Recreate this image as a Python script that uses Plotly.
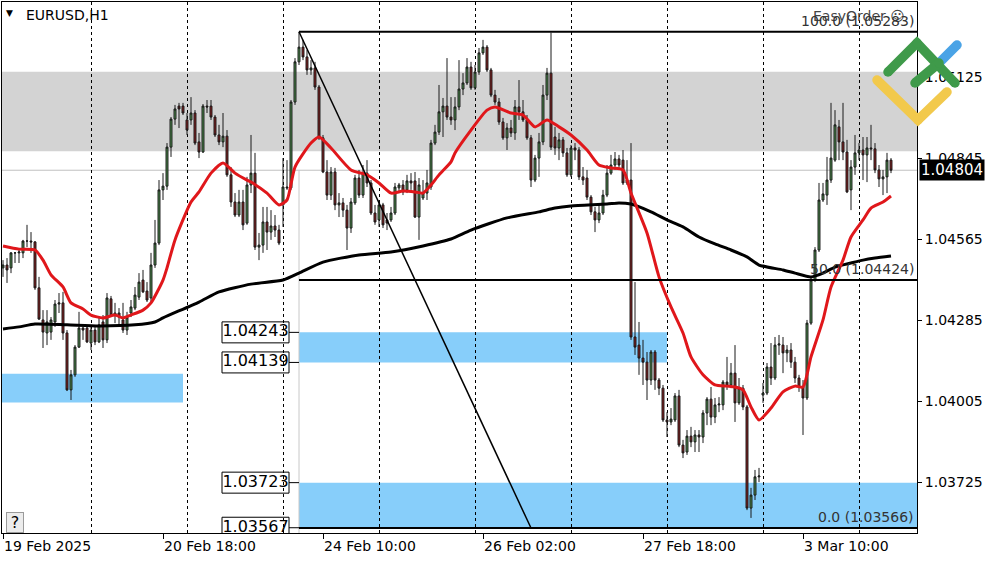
import plotly.graph_objects as go

# ---------------- data (EURUSD H1) ----------------
bars = list(range(223))
opens = [1.04466,1.04476,1.04466,1.04518,1.04518,1.04518,1.04559,1.04559,1.04556,1.04397,
1.04286,1.04241,1.04244,1.04279,1.04341,1.04345,1.04241,1.04044,1.04096,1.04192,
1.04258,1.04258,1.04206,1.04251,1.04210,1.04279,1.04217,1.04359,1.04303,1.04310,
1.04286,1.04251,1.04310,1.04327,1.04365,1.04424,1.04386,1.04362,1.04476,1.04552,
1.04736,1.04749,1.04884,1.04981,1.05026,1.05026,1.04978,1.04978,1.05002,1.04902,
1.04867,1.05026,1.05026,1.04988,1.04926,1.04902,1.04922,1.04788,1.04694,1.04649,
1.04694,1.04621,1.04753,1.04794,1.04538,1.04545,1.04625,1.04590,1.04611,1.04597,
1.04684,1.04746,1.04743,1.05040,1.05179,1.05230,1.05196,1.05151,1.05158,1.05092,
1.04916,1.04798,1.04718,1.04798,1.04684,1.04691,1.04666,1.04604,1.04691,1.04777,
1.04718,1.04794,1.04760,1.04656,1.04632,1.04684,1.04632,1.04632,1.04656,1.04743,
1.04753,1.04736,1.04767,1.04767,1.04642,1.04708,1.04725,1.04746,1.04898,1.04936,
1.05006,1.05026,1.04988,1.04978,1.05023,1.05085,1.05106,1.05161,1.05089,1.05144,
1.05210,1.05230,1.05151,1.05064,1.05040,1.04971,1.04916,1.04950,1.04933,1.05023,
1.05006,1.04978,1.04916,1.04770,1.04846,1.04902,1.05064,1.05140,1.04919,1.04881,
1.04909,1.04864,1.04788,1.04881,1.04874,1.04781,1.04777,1.04711,1.04660,1.04632,
1.04656,1.04718,1.04794,1.04822,1.04843,1.04839,1.04760,1.04770,1.04227,1.04199,
1.04154,1.04140,1.04078,1.04175,1.04078,1.04050,1.03940,1.03933,1.03940,1.04023,
1.03853,1.03829,1.03884,1.03864,1.03888,1.03881,1.03964,1.04012,1.03950,1.03992,
1.03992,1.04071,1.04061,1.04102,1.03999,1.04050,1.03985,1.03635,1.03680,1.03743,
1.04026,1.04033,1.04123,1.04085,1.04199,1.04199,1.04172,1.04182,1.04140,1.04085,
1.04054,1.04016,1.04275,1.04424,1.04528,1.04701,1.04718,1.04770,1.04839,1.04954,
1.04902,1.04867,1.04736,1.04815,1.04864,1.04874,1.04857,1.04881,1.04878,1.04805,
1.04774,1.04781,1.04839]
highs = [1.04493,1.04500,1.04521,1.04521,1.04535,1.04563,1.04615,1.04590,1.04559,1.04435,
1.04320,1.04320,1.04296,1.04355,1.04379,1.04383,1.04251,1.04113,1.04199,1.04314,
1.04262,1.04262,1.04262,1.04262,1.04296,1.04303,1.04379,1.04369,1.04345,1.04327,
1.04345,1.04314,1.04355,1.04400,1.04448,1.04459,1.04417,1.04518,1.04632,1.04770,
1.04794,1.04898,1.04988,1.05030,1.05037,1.05037,1.05002,1.05057,1.05012,1.04933,
1.05033,1.05047,1.05047,1.04995,1.04961,1.05002,1.04943,1.04815,1.04725,1.04736,
1.04736,1.04781,1.04926,1.04864,1.04587,1.04677,1.04677,1.04666,1.04649,1.04615,
1.04846,1.04839,1.05047,1.05192,1.05283,1.05255,1.05220,1.05185,1.05179,1.05099,
1.04926,1.04839,1.04815,1.04812,1.04725,1.04708,1.04684,1.04708,1.04788,1.04805,
1.04822,1.04839,1.04770,1.04684,1.04701,1.04691,1.04656,1.04677,1.04760,1.04760,
1.04770,1.04788,1.04794,1.04798,1.04777,1.04770,1.04805,1.04909,1.04961,1.05099,
1.05054,1.05192,1.05057,1.05057,1.05185,1.05140,1.05192,1.05179,1.05168,1.05227,
1.05255,1.05237,1.05158,1.05082,1.05054,1.04985,1.04967,1.04978,1.05047,1.05116,
1.05047,1.04995,1.04926,1.04857,1.04933,1.05099,1.05158,1.05280,1.04954,1.04933,
1.04919,1.04881,1.04891,1.04898,1.04884,1.04815,1.04805,1.04718,1.04677,1.04684,
1.04736,1.04822,1.04857,1.04867,1.04857,1.04874,1.04839,1.04898,1.04417,1.04279,
1.04217,1.04175,1.04182,1.04182,1.04085,1.04061,1.03967,1.03981,1.04033,1.04044,
1.03871,1.03905,1.03916,1.03905,1.03905,1.03974,1.04019,1.04054,1.04016,1.04019,
1.04078,1.04158,1.04137,1.04199,1.04085,1.04061,1.03992,1.03705,1.03767,1.03774,
1.04068,1.04137,1.04206,1.04227,1.04234,1.04227,1.04199,1.04206,1.04158,1.04096,
1.04078,1.04286,1.04435,1.04538,1.04760,1.04760,1.04850,1.05037,1.05012,1.04978,
1.05037,1.04909,1.04839,1.04926,1.04898,1.04919,1.04919,1.04961,1.04898,1.04822,
1.04805,1.04864,1.04846]
lows = [1.04435,1.04414,1.04448,1.04483,1.04483,1.04500,1.04538,1.04518,1.04390,1.04286,
1.04189,1.04199,1.04217,1.04262,1.04310,1.04217,1.04040,1.04009,1.04089,1.04189,
1.04217,1.04206,1.04182,1.04199,1.04206,1.04189,1.04206,1.04296,1.04275,1.04262,
1.04241,1.04234,1.04296,1.04320,1.04355,1.04379,1.04348,1.04348,1.04466,1.04545,
1.04701,1.04736,1.04850,1.04961,1.04950,1.04995,1.04926,1.04961,1.04891,1.04846,
1.04864,1.05002,1.04978,1.04919,1.04891,1.04884,1.04781,1.04677,1.04642,1.04642,
1.04597,1.04615,1.04725,1.04528,1.04493,1.04518,1.04528,1.04563,1.04573,1.04545,
1.04608,1.04736,1.04736,1.05030,1.05168,1.05185,1.05134,1.05134,1.05082,1.04909,
1.04794,1.04701,1.04701,1.04666,1.04642,1.04642,1.04528,1.04587,1.04684,1.04708,
1.04708,1.04746,1.04649,1.04615,1.04608,1.04604,1.04597,1.04625,1.04649,1.04725,
1.04718,1.04725,1.04736,1.04639,1.04563,1.04701,1.04701,1.04736,1.04891,1.04926,
1.04919,1.04978,1.04961,1.04943,1.05012,1.05064,1.05099,1.05082,1.05082,1.05134,
1.05203,1.05144,1.05057,1.05030,1.04961,1.04909,1.04874,1.04919,1.04909,1.04978,
1.04971,1.04909,1.04746,1.04763,1.04781,1.04891,1.05047,1.04874,1.04857,1.04839,
1.04850,1.04781,1.04781,1.04839,1.04770,1.04753,1.04701,1.04649,1.04590,1.04621,
1.04649,1.04711,1.04788,1.04805,1.04812,1.04753,1.04753,1.04217,1.04165,1.04096,
1.04061,1.04009,1.04061,1.04044,1.04026,1.03933,1.03881,1.03922,1.03933,1.03846,
1.03808,1.03819,1.03846,1.03829,1.03829,1.03860,1.03922,1.03922,1.03929,1.03967,
1.03974,1.04044,1.04050,1.03933,1.03992,1.03974,1.03628,1.03601,1.03663,1.03725,
1.03999,1.04026,1.04061,1.04078,1.04165,1.04102,1.04140,1.04120,1.04068,1.04037,
1.03888,1.04009,1.04269,1.04417,1.04521,1.04694,1.04684,1.04760,1.04833,1.04839,
1.04839,1.04725,1.04666,1.04788,1.04839,1.04770,1.04763,1.04839,1.04794,1.04746,
1.04718,1.04725,1.04794]
closes = [1.04476,1.04459,1.04518,1.04518,1.04521,1.04559,1.04559,1.04556,1.04397,1.04289,
1.04244,1.04279,1.04286,1.04341,1.04345,1.04241,1.04044,1.04096,1.04192,1.04258,
1.04251,1.04210,1.04251,1.04210,1.04269,1.04217,1.04362,1.04303,1.04310,1.04296,
1.04251,1.04296,1.04331,1.04372,1.04417,1.04383,1.04355,1.04476,1.04552,1.04736,
1.04749,1.04884,1.04981,1.05016,1.05016,1.05002,1.04943,1.05002,1.04898,1.04867,
1.05026,1.05023,1.04988,1.04926,1.04902,1.04922,1.04788,1.04694,1.04649,1.04694,
1.04615,1.04753,1.04794,1.04538,1.04545,1.04625,1.04590,1.04611,1.04597,1.04552,
1.04746,1.04743,1.05040,1.05179,1.05230,1.05196,1.05151,1.05158,1.05092,1.04916,
1.04798,1.04718,1.04798,1.04684,1.04691,1.04666,1.04604,1.04694,1.04777,1.04718,
1.04794,1.04760,1.04656,1.04625,1.04684,1.04615,1.04621,1.04656,1.04746,1.04753,
1.04729,1.04767,1.04760,1.04642,1.04753,1.04725,1.04760,1.04898,1.04936,1.05006,
1.05026,1.04988,1.04978,1.05023,1.05085,1.05106,1.05161,1.05089,1.05144,1.05210,
1.05230,1.05151,1.05064,1.05040,1.04971,1.04916,1.04950,1.04933,1.05023,1.05006,
1.04978,1.04916,1.04770,1.04846,1.04902,1.05064,1.05140,1.04884,1.04881,1.04909,
1.04864,1.04788,1.04881,1.04874,1.04781,1.04770,1.04711,1.04660,1.04632,1.04656,
1.04718,1.04794,1.04822,1.04843,1.04822,1.04760,1.04770,1.04227,1.04192,1.04154,
1.04140,1.04078,1.04175,1.04078,1.04050,1.03940,1.03933,1.03943,1.04023,1.03853,
1.03826,1.03884,1.03864,1.03888,1.03881,1.03964,1.04012,1.03950,1.03992,1.03995,
1.04071,1.04061,1.04102,1.03999,1.04050,1.03985,1.03635,1.03680,1.03743,1.03746,
1.04033,1.04123,1.04085,1.04199,1.04203,1.04172,1.04182,1.04140,1.04085,1.04054,
1.04016,1.04275,1.04424,1.04528,1.04701,1.04722,1.04770,1.04846,1.04961,1.04902,
1.04867,1.04729,1.04815,1.04864,1.04874,1.04857,1.04881,1.04878,1.04805,1.04774,
1.04781,1.04839,1.04804]

# moving averages (bar index, price)
ma_fast_bars = [0,4,8,10,12,15,17,20,22,25,28,30,32,35,37,40,41,43,47,49,52,55,58,61,62,66,69,71,73,77,79,82,87,91,94,97,100,103,105,107,109,112,113,117,121,123,127,130,133,136,139,142,146,149,152,155,157,161,164,167,170,172,175,178,181,183,185,187,189,192,195,198,200,202,205,207,210,212,215,217,220,222]
ma_fast_vals = [1.04542,1.04531,1.04528,1.04493,1.04442,1.04400,1.04345,1.04324,1.04303,1.04293,1.04303,1.04293,1.04303,1.04320,1.04345,1.04424,1.04466,1.04563,1.04694,1.04729,1.04794,1.04829,1.04794,1.04770,1.04763,1.04725,1.04684,1.04701,1.04815,1.04898,1.04919,1.04881,1.04805,1.04788,1.04760,1.04725,1.04732,1.04729,1.04725,1.04753,1.04788,1.04833,1.04864,1.04943,1.05012,1.05023,1.05002,1.04995,1.04954,1.04978,1.04954,1.04926,1.04874,1.04822,1.04812,1.04805,1.04725,1.04587,1.04435,1.04331,1.04241,1.04158,1.04096,1.04061,1.04057,1.04054,1.04044,1.03985,1.03940,1.03981,1.04037,1.04057,1.04054,1.04158,1.04286,1.04400,1.04493,1.04573,1.04632,1.04673,1.04694,1.04715]
ma_slow_bars = [0,4,8,16,24,33,38,40,49,54,62,70,74,80,89,97,105,112,117,126,134,138,142,151,154,157,162,166,170,174,178,182,186,189,195,198,202,205,208,212,215,218,222]
ma_slow_vals = [1.04255,1.04262,1.04272,1.04269,1.04265,1.04269,1.04279,1.04293,1.04348,1.04383,1.04410,1.04424,1.04448,1.04486,1.04511,1.04521,1.04542,1.04566,1.04597,1.04639,1.04660,1.04673,1.04680,1.04687,1.04691,1.04687,1.04660,1.04632,1.04608,1.04573,1.04549,1.04528,1.04504,1.04476,1.04459,1.04448,1.04435,1.04448,1.04469,1.04483,1.04493,1.04500,1.04507]

bid_price = 1.04804

# x axis labels (bar index -> text) and day separators
label_bars = [0, 40, 80, 120, 160, 200]
label_texts = ["19 Feb 2025", "20 Feb 18:00", "24 Feb 10:00", "26 Feb 02:00", "27 Feb 18:00", "3 Mar 10:00"]
day_bars = [22, 46, 70, 94, 118, 142, 166, 190, 214]

# price axis
price_ticks = [1.05125, 1.04845, 1.04565, 1.04285, 1.04005, 1.03725]

# zones: (start bar or None=left edge, end bar or None=right edge, low, high)
grey_zone = (1.04870, 1.05145)
blue_zones = [(None, 45, 1.04000, 1.04100), (74, 166, 1.04139, 1.04243), (74, None, 1.03567, 1.03723)]
zone_labels = ["1.04243", "1.04139", "1.03723", "1.03567"]
zone_label_values = [1.04243, 1.04139, 1.03723, 1.03567]

# fibonacci
fib_bars = [74, 132]
fib_levels = [1.05283, 1.04424, 1.03566]
fib_texts = ["100.0 (1.05283)", "50.0 (1.04424)", "0.0 (1.03566)"]

# ---------------- layout geometry ----------------
X_RANGE = [-0.25, 228.5]
Y_RANGE = [1.035488, 1.053861]
ML, MR, MT, MB = 2, 83, 2, 29
W, H = 1000, 562
PW, PH = W - ML - MR, H - MT - MB
upp = (Y_RANGE[1] - Y_RANGE[0]) / PH   # price per pixel
bpp = (X_RANGE[1] - X_RANGE[0]) / PW   # bars per pixel

def px(xp):   # pixel x -> paper
    return (xp - ML) / PW
def py(yp):   # pixel y -> paper
    return (H - MB - yp) / PH

FONT = "DejaVu Sans"
fig = go.Figure()

fig.add_trace(go.Candlestick(
    x=bars, open=opens, high=highs, low=lows, close=closes,
    increasing=dict(line=dict(color="#1a1a1a", width=1), fillcolor="#4f944f"),
    decreasing=dict(line=dict(color="#1a1a1a", width=1), fillcolor="#8e1c1c"),
    whiskerwidth=0, showlegend=False, hoverinfo="skip"))

fig.add_trace(go.Scatter(x=ma_slow_bars, y=ma_slow_vals, mode="lines",
    line=dict(color="black", width=3, shape="spline", smoothing=0.6),
    showlegend=False, hoverinfo="skip"))
fig.add_trace(go.Scatter(x=ma_fast_bars, y=ma_fast_vals, mode="lines",
    line=dict(color="#e0171b", width=3, shape="spline", smoothing=0.6),
    showlegend=False, hoverinfo="skip"))

shapes = []
# zones
shapes.append(dict(type="rect", xref="paper", yref="y", x0=0, x1=1, y0=grey_zone[0], y1=grey_zone[1],
                   fillcolor="#d3d3d3", line=dict(width=0), layer="below"))
for x0, x1, lo, hi in blue_zones:
    shapes.append(dict(type="rect", xref="x", yref="y",
                       x0=X_RANGE[0] if x0 is None else x0,
                       x1=X_RANGE[1] if x1 is None else x1,
                       y0=lo, y1=hi, fillcolor="#87cefa", line=dict(width=0), layer="below"))
# bid line
shapes.append(dict(type="line", xref="paper", yref="y", x0=0, x1=1, y0=bid_price, y1=bid_price,
                   line=dict(color="#c0c0c0", width=1), layer="below"))
# vertical helper line of the fibo object
shapes.append(dict(type="line", xref="x", yref="y", x0=fib_bars[0], x1=fib_bars[0],
                   y0=Y_RANGE[0], y1=bid_price, line=dict(color="#c8c8c8", width=1), layer="below"))
# price label boxes for zones (below traces so the text trace shows on top)
box_x0 = fib_bars[0] - 77 * bpp
box_x1 = fib_bars[0] - 10 * bpp
for v in zone_label_values:
    shapes.append(dict(type="rect", xref="x", yref="y", x0=box_x0, x1=box_x1,
                       y0=v - 10.5 * upp, y1=v + 10.5 * upp, fillcolor="white",
                       line=dict(color="black", width=1), layer="below"))
    shapes.append(dict(type="line", xref="x", yref="y", x0=box_x1, x1=fib_bars[0], y0=v, y1=v,
                       line=dict(color="black", width=1)))
# fibo levels & trend line
for lv in fib_levels:
    shapes.append(dict(type="line", xref="x", yref="y", x0=fib_bars[0], x1=X_RANGE[1], y0=lv, y1=lv,
                       line=dict(color="black", width=2)))
shapes.append(dict(type="line", xref="x", yref="y", x0=fib_bars[0], x1=fib_bars[1],
                   y0=fib_levels[0], y1=fib_levels[-1], line=dict(color="black", width=1.5)))

# logo (decorative): thick strokes with round ends
STROKE = 9.5
def stroke(pts, color):
    d = "M " + " L ".join(f"{px(a):.5f},{py(b):.5f}" for a, b in pts)
    out = [dict(type="path", xref="paper", yref="paper", path=d,
                line=dict(color=color, width=STROKE), fillcolor="rgba(0,0,0,0)")]
    r = STROKE / 2
    for a, b in pts:
        out.append(dict(type="circle", xref="paper", yref="paper",
                        x0=px(a - r), x1=px(a + r), y0=py(b + r), y1=py(b - r),
                        fillcolor=color, line=dict(width=0)))
    return out
shapes += stroke([(877, 80), (918, 120), (947, 92)], "#f2c94c")
shapes += stroke([(939, 63), (957, 45)], "#4aa3e6")
shapes += stroke([(888, 72), (917, 43), (955, 83)], "#3f9a4a")
shapes += stroke([(915, 83), (939, 63)], "#3f9a4a")

fig.add_trace(go.Scatter(x=[(box_x0 + box_x1) / 2] * len(zone_labels), y=zone_label_values,
    mode="text", text=zone_labels, textfont=dict(family=FONT, size=16, color="black"),
    cliponaxis=True, showlegend=False, hoverinfo="skip"))

ann = []
ann.append(dict(xref="paper", yref="paper", x=px(4), y=py(13), xanchor="left", yanchor="middle",
                text="▼", showarrow=False, font=dict(family=FONT, size=9, color="black")))
ann.append(dict(xref="paper", yref="paper", x=px(24), y=py(15), xanchor="left", yanchor="middle",
                text="EURUSD,H1", showarrow=False, font=dict(family=FONT, size=14, color="black")))
ann.append(dict(xref="paper", yref="paper", x=px(811), y=py(16), xanchor="left", yanchor="middle",
                text="EasyOrder ☺", showarrow=False, font=dict(family=FONT, size=14, color="#444")))
for lv, t in zip(fib_levels, fib_texts):
    ann.append(dict(xref="paper", yref="y", x=px(916), y=lv, xanchor="right", yanchor="bottom",
                    yshift=1, text=t, showarrow=False, font=dict(family=FONT, size=14, color="#333")))
ann.append(dict(xref="paper", yref="y", x=1, y=bid_price, xanchor="left", yanchor="middle", xshift=2,
                text=f"{bid_price:.5f}", showarrow=False, bgcolor="black", borderpad=1,
                font=dict(family=FONT, size=15, color="white")))
ann.append(dict(xref="paper", yref="paper", x=px(15), y=py(522), xanchor="center", yanchor="middle",
                text="?", showarrow=False, bgcolor="#ececec", bordercolor="#9a9a9a", borderwidth=1,
                borderpad=1, width=14, height=17, font=dict(family=FONT, size=16, color="black")))

fig.update_layout(
    width=W, height=H, margin=dict(l=ML, r=MR, t=MT, b=MB, pad=0, autoexpand=False),
    paper_bgcolor="white", plot_bgcolor="white", showlegend=False, hovermode=False,
    shapes=shapes, annotations=ann,
    font=dict(family=FONT, size=14, color="black"),
    xaxis=dict(range=X_RANGE, rangeslider=dict(visible=False), showgrid=False, zeroline=False,
               automargin=False,
               tickmode="array", tickvals=label_bars, ticktext=label_texts,
               ticks="outside", ticklen=5, tickcolor="black", ticklabelposition="outside right",
               showline=True, linecolor="black", linewidth=1, mirror=True,
               tickfont=dict(family=FONT, size=14, color="black"),
               minor=dict(tickmode="array", tickvals=day_bars, showgrid=True, gridcolor="black",
                          gridwidth=1, griddash="3px,3px", ticks="")),
    yaxis=dict(range=Y_RANGE, side="right", showgrid=False, zeroline=False, automargin=False,
               tickmode="array", tickvals=price_ticks, ticktext=[f"{v:.5f}" for v in price_ticks],
               ticks="outside", ticklen=4, tickcolor="black",
               showline=True, linecolor="black", linewidth=1, mirror=True,
               tickfont=dict(family=FONT, size=14, color="black")),
)

fig.write_html("out.html", config={"displayModeBar": False},
               post_script="document.body.style.margin='0';document.body.style.overflow='hidden';")
